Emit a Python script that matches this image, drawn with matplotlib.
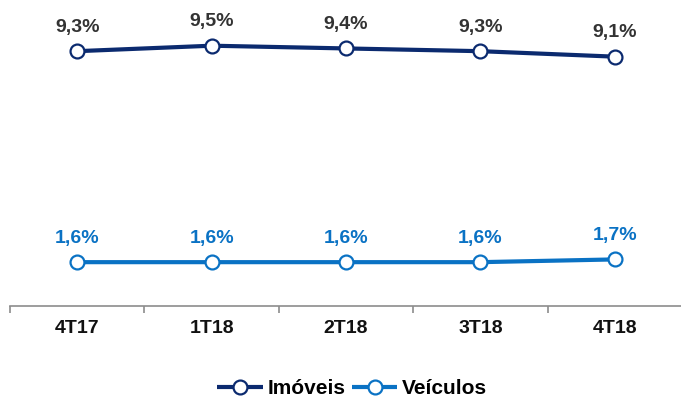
import numpy as np
import matplotlib.pyplot as plt

# Quarterly values (%)
quarters = ["4T17", "1T18", "2T18", "3T18", "4T18"]
imoveis = [9.3, 9.5, 9.4, 9.3, 9.1]
veiculos = [1.6, 1.6, 1.6, 1.6, 1.7]

plt.rcParams['font.family'] = ['Liberation Sans', 'DejaVu Sans']

dark = "#0B2A6F"
light = "#0A72C4"

fig = plt.figure(figsize=(6.81, 4.01), dpi=100)
ax = fig.add_axes([10 / 681, 1 - 306 / 401, 672 / 681, 306 / 401])

x = np.arange(len(quarters))
for vals, col, txtcol, name in [(imoveis, dark, "#333333", "Imóveis"),
                                (veiculos, light, light, "Veículos")]:
    ax.plot(x, vals, color=col, lw=3, marker="o", ms=10, mfc="white",
            mec=col, mew=1.6, label=name, solid_capstyle="butt")
    for xi, v in zip(x, vals):
        ax.annotate(f"{v:.1f}%".replace(".", ","), (xi, v), xytext=(0, 11),
                    textcoords="offset points", ha="center", va="bottom",
                    fontsize=14, fontweight="bold", color=txtcol)

ax.set_xlim(-0.5, len(quarters) - 0.5)
ax.set_ylim(0, 306 / 27.4)
ax.set_yticks([])
for s in ["top", "right", "left"]:
    ax.spines[s].set_visible(False)
ax.spines["bottom"].set_color("#8C8C8C")
ax.spines["bottom"].set_linewidth(1.2)

ax.set_xticks(x)
ax.set_xticklabels(quarters, fontsize=14, fontweight="bold", color="#111111")
ax.tick_params(axis="x", length=0, pad=10)
ax.set_xticks(np.arange(-0.5, len(quarters) - 0.5, 1), minor=True)
ax.tick_params(axis="x", which="minor", length=5, color="#8C8C8C", width=1.2)

fig.legend(loc="lower center", bbox_to_anchor=(0.517, -0.04), ncol=2, frameon=False,
           prop={"size": 15, "weight": "bold"}, handlelength=2.2,
           handletextpad=0.2, columnspacing=0.3)

fig.savefig("out.png", dpi=100)
